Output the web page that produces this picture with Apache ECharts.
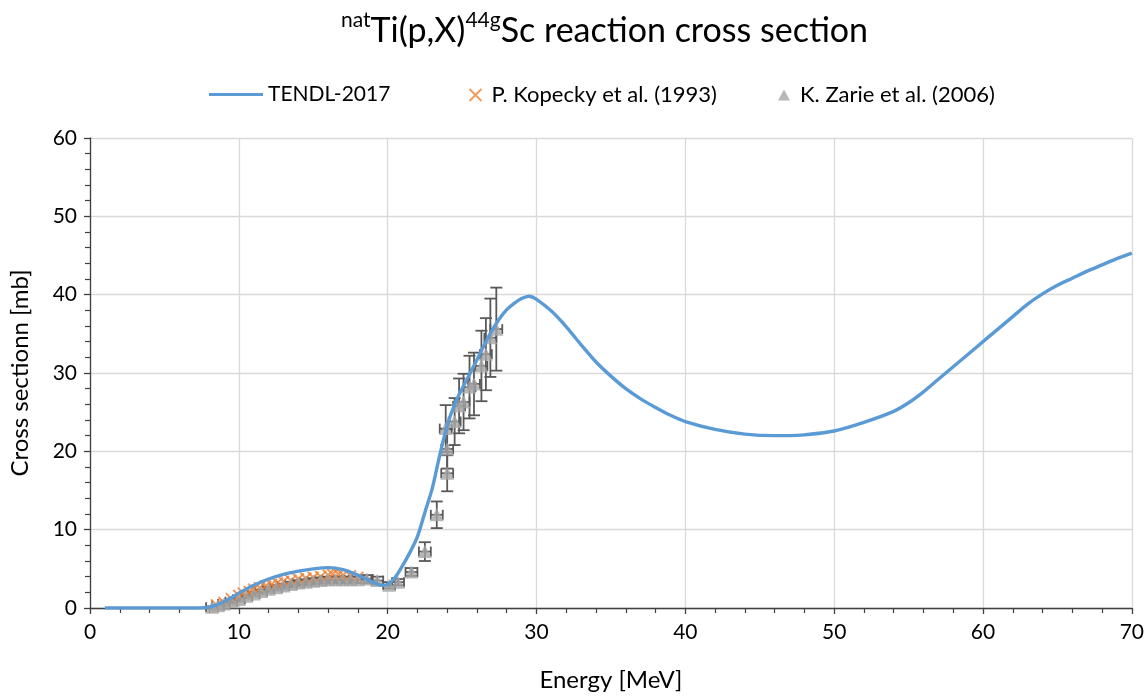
<!DOCTYPE html>
<html>
<head>
<meta charset="utf-8">
<script src="https://cdn.jsdelivr.net/npm/echarts@6/dist/echarts.min.js"></script>
<style>
html,body{margin:0;padding:0;background:#fff;}
#chart{width:1147px;height:697px;}
</style>
</head>
<body>
<div id="chart"></div>
<script>
// TENDL-2017 evaluated curve
const tendlE = [1, 2, 3, 4, 5, 6, 7, 7.5, 8, 8.5, 9, 9.5, 10, 11, 12, 13, 14, 15, 16, 17, 18, 19, 19.6, 20, 20.5, 21, 21.5, 22, 22.5, 23, 23.5, 24, 24.5, 25, 25.5, 26, 26.5, 27, 27.5, 28, 28.5, 29, 29.5, 30, 31, 32, 33, 34, 35, 36, 37, 38, 39, 40, 42, 44, 46, 47, 48, 50, 52, 54, 55, 56, 57, 58, 59, 60, 61, 62, 63, 64, 65, 66, 67, 68, 69, 70];
const tendlV = [0, 0, 0, 0, 0, 0, 0, 0.02, 0.1, 0.4, 0.8, 1.3, 1.9, 2.9, 3.7, 4.3, 4.7, 5.0, 5.15, 4.9, 4.2, 3.3, 2.9, 3.0, 3.9, 5.4, 7.1, 9.1, 12.2, 15.3, 19.5, 23.3, 26.0, 28.0, 29.8, 31.7, 33.6, 35.4, 36.9, 38.1, 38.9, 39.5, 39.8, 39.4, 37.9, 35.9, 33.6, 31.4, 29.6, 28.0, 26.7, 25.6, 24.6, 23.8, 22.8, 22.2, 22.0, 22.0, 22.1, 22.6, 23.7, 25.1, 26.2, 27.6, 29.2, 30.8, 32.4, 34.0, 35.6, 37.2, 38.8, 40.1, 41.2, 42.1, 43.0, 43.8, 44.6, 45.3];

// P. Kopecky et al. (1993)
const kopE = [8.5, 9.0, 9.5, 10.0, 10.3, 10.7, 11.0, 11.4, 11.8, 12.2, 12.6, 13.0, 13.5, 14.0, 14.5, 15.0, 15.5, 16.0, 16.3, 16.7, 17.0, 17.5, 18.0];
const kopV = [0.4, 0.7, 1.2, 1.6, 1.9, 2.1, 2.4, 2.6, 2.8, 3.0, 3.2, 3.4, 3.5, 3.7, 3.8, 3.9, 4.0, 4.2, 4.3, 4.3, 4.2, 4.1, 3.9];

// K. Zarie et al. (2006) with uncertainties
const zarE = [8.2, 8.6, 9.0, 9.5, 10.0, 10.5, 11.0, 11.5, 12.0, 12.5, 13.0, 13.5, 14.0, 14.5, 15.0, 15.5, 16.0, 16.5, 17.0, 17.5, 18.0, 18.6, 19.3, 20.1, 20.7, 21.6, 22.5, 23.3, 23.9, 24.0, 24.0, 24.5, 24.8, 25.1, 25.5, 25.8, 26.3, 26.6, 26.9, 27.3];
const zarV = [0.1, 0.3, 0.5, 0.8, 1.1, 1.5, 1.8, 2.1, 2.4, 2.6, 2.8, 3.0, 3.2, 3.3, 3.4, 3.5, 3.6, 3.6, 3.6, 3.6, 3.6, 3.7, 3.5, 2.9, 3.3, 4.6, 7.2, 11.9, 22.9, 20.3, 17.2, 23.8, 25.8, 26.3, 28.2, 28.6, 30.9, 32.4, 34.5, 35.6];
const zarErr = [0.1, 0.1, 0.15, 0.15, 0.2, 0.2, 0.25, 0.25, 0.3, 0.3, 0.3, 0.35, 0.35, 0.35, 0.4, 0.4, 0.4, 0.4, 0.4, 0.4, 0.4, 0.5, 0.5, 0.4, 0.4, 0.5, 1.2, 1.7, 3.0, 2.5, 2.3, 3.0, 3.5, 3.6, 4.0, 4.0, 4.5, 4.6, 5.0, 5.3];
const zarEErr = 0.4;

// Axis ticks
const xMin = 0, xMax = 70, xStep = 10;
const yMin = 0, yMax = 60, yStep = 10;

const FONT = 'Lato';
const tendlData = tendlE.map((e, i) => [e, tendlV[i]]);
const kopData = kopE.map((e, i) => [e, kopV[i]]);
const zarData = zarE.map((e, i) => [e, zarV[i]]);
const errData = zarE.map((e, i) => [e, zarV[i] - zarErr[i], zarV[i] + zarErr[i], e - zarEErr, e + zarEErr, zarV[i]]);

const XPATH = 'path://M0,0L10,10M10,0L0,10';
const LINEPATH = 'path://M0,0L54,0L54,3L0,3Z';

const chart = echarts.init(document.getElementById('chart'), null, {renderer: 'canvas'});
chart.setOption({
  animation: false,
  backgroundColor: '#ffffff',
  title: {
    text: '{sup|nat}{n|Ti(p,X)}{sup|44g}{n|Sc reaction cross section}',
    left: 336,
    top: 5,
    textStyle: {
      fontFamily: FONT, fontWeight: 'normal', color: '#000',
      rich: {
        n: {fontFamily: FONT, fontSize: 34, color: '#000', lineHeight: 42},
        sup: {fontFamily: FONT, fontSize: 21, color: '#000', lineHeight: 30, verticalAlign: 'top'}
      }
    }
  },
  legend: [
    {
      data: [{name: 'TENDL-2017', icon: LINEPATH}], left: 204, top: 79, itemWidth: 54, itemHeight: 3,
      itemStyle: {color: '#5B9BD5'},
      textStyle: {fontFamily: FONT, fontSize: 21, color: '#000'}
    },
    {
      data: [{name: 'P. Kopecky et al. (1993)', icon: XPATH}], left: 462, top: 79, itemWidth: 12, itemHeight: 12,
      itemStyle: {color: 'none', borderColor: '#ED7D31', borderWidth: 1.8},
      textStyle: {fontFamily: FONT, fontSize: 22, color: '#000', padding: [0, 0, 0, 5]}
    },
    {
      data: [{name: 'K. Zarie et al. (2006)', icon: 'triangle'}], left: 773, top: 79, itemWidth: 12, itemHeight: 11,
      textStyle: {fontFamily: FONT, fontSize: 22, color: '#000', padding: [0, 0, 0, 5]}
    }
  ],
  grid: {left: 90, right: 13, top: 138, bottom: 86, containLabel: false},
  xAxis: {
    type: 'value', min: xMin, max: xMax, interval: xStep,
    name: 'Energy [MeV]', nameLocation: 'middle', nameGap: 60,
    nameTextStyle: {fontFamily: FONT, fontSize: 24, color: '#000'},
    axisLine: {show: true, onZero: false, lineStyle: {color: '#404040', width: 1.3}},
    axisTick: {show: true, length: 6, lineStyle: {color: '#404040', width: 1.3}},
    minorTick: {show: true, splitNumber: 5, length: 5, lineStyle: {color: '#404040', width: 1.2}},
    axisLabel: {fontFamily: FONT, fontSize: 21, color: '#000', margin: 14},
    splitLine: {show: true, lineStyle: {color: '#d9d9d9', width: 1.3}}
  },
  yAxis: {
    type: 'value', min: yMin, max: yMax, interval: yStep,
    name: 'Cross sectionn [mb]', nameLocation: 'middle', nameGap: 58,
    nameTextStyle: {fontFamily: FONT, fontSize: 24, color: '#000'},
    axisLine: {show: true, onZero: false, lineStyle: {color: '#404040', width: 1.3}},
    axisTick: {show: true, length: 6, lineStyle: {color: '#404040', width: 1.3}},
    minorTick: {show: true, splitNumber: 5, length: 5, lineStyle: {color: '#404040', width: 1.2}},
    axisLabel: {fontFamily: FONT, fontSize: 21, color: '#000', margin: 13},
    splitLine: {show: true, lineStyle: {color: '#d9d9d9', width: 1.3}}
  },
  series: [
    {
      name: 'K. Zarie et al. (2006) err', type: 'custom', data: errData, z: 2,
      encode: {x: [0, 3, 4], y: [1, 2]},
      renderItem: function (params, api) {
        const x = api.value(0), lo = api.value(1), hi = api.value(2);
        const xl = api.value(3), xr = api.value(4), yv = api.value(5);
        const pLo = api.coord([x, lo]), pHi = api.coord([x, hi]);
        const pL = api.coord([xl, yv]), pR = api.coord([xr, yv]);
        const c = 6;
        const st = {stroke: '#595959', lineWidth: 1.8};
        return {
          type: 'group',
          children: [
            {type: 'line', shape: {x1: pLo[0], y1: pLo[1], x2: pHi[0], y2: pHi[1]}, style: st},
            {type: 'line', shape: {x1: pLo[0] - c, y1: pLo[1], x2: pLo[0] + c, y2: pLo[1]}, style: st},
            {type: 'line', shape: {x1: pHi[0] - c, y1: pHi[1], x2: pHi[0] + c, y2: pHi[1]}, style: st},
            {type: 'line', shape: {x1: pL[0], y1: pL[1], x2: pR[0], y2: pR[1]}, style: st},
            {type: 'line', shape: {x1: pL[0], y1: pL[1] - 5, x2: pL[0], y2: pL[1] + 5}, style: st},
            {type: 'line', shape: {x1: pR[0], y1: pR[1] - 5, x2: pR[0], y2: pR[1] + 5}, style: st}
          ]
        };
      }
    },
    {
      name: 'P. Kopecky et al. (1993)', type: 'scatter', data: kopData, z: 3,
      symbol: XPATH, symbolSize: 11,
      itemStyle: {color: 'none', borderColor: '#ED7D31', borderWidth: 2}
    },
    {
      name: 'K. Zarie et al. (2006)', type: 'scatter', data: zarData, z: 4,
      symbol: 'triangle', symbolSize: [14, 13],
      itemStyle: {color: '#A5A5A5'}
    },
    {
      name: 'TENDL-2017', type: 'line', data: tendlData, z: 5,
      smooth: 0.3, showSymbol: false, symbol: 'none',
      lineStyle: {color: '#5B9BD5', width: 3.4},
      itemStyle: {color: '#5B9BD5'}
    }
  ]
});
</script>
</body>
</html>
